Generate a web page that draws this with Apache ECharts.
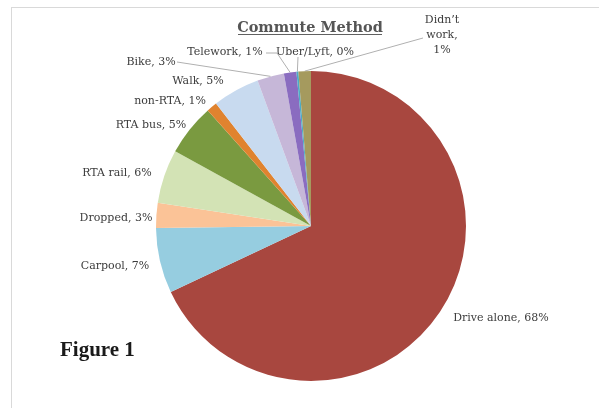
<!DOCTYPE html>
<html>
<head>
<meta charset="utf-8">
<script src="https://cdn.jsdelivr.net/npm/echarts@6/dist/echarts.min.js"></script>
<style>
html,body{margin:0;padding:0;background:#fff;}
#c{width:599px;height:408px;}
</style>
</head>
<body>
<div id="c"></div>
<script>
const categories = ['Drive alone','Carpool','Dropped','RTA rail','RTA bus','non-RTA','Walk','Bike','Telework','Uber/Lyft','Didn’t work'];
const shares = [68.0, 6.8, 2.6, 5.6, 5.4, 1.1, 4.9, 2.8, 1.3, 0.2, 1.3];

const palette = ['#a8473f','#96cde0','#fbc397','#d3e3b5','#7a9a40','#e0832f','#c8daef','#c6b7d8','#8a6cc0','#4bacc6','#a59a5e'];
const labelPos = [[501,318],[115,266],[116,218],[117,173],[151,125],[170,101],[198,81],[151,62],[225,52],[315,52],[442,35]];
const withLine = [false,false,false,false,false,false,false,true,true,true,true];
const lineEnds = {7:[[177,62]], 8:[[277,53],[266,53]], 9:[[298,57]], 10:[[423,38]]};

const total = shares.reduce((a,b)=>a+b,0);
const chart = echarts.init(document.getElementById('c'));
const labelFont = {fontFamily:'"DejaVu Serif","Liberation Serif",serif', fontSize:11, fontWeight:'normal', color:'#3c3c3c'};

chart.setOption({
  animation:false,
  title:[
    {text:'Commute Method', left:305, top:16, textAlign:'center',
     textStyle:{fontFamily:'"DejaVu Serif","Liberation Serif",serif', fontSize:14.5, fontWeight:'bold', color:'#555'}},
    {text:'Figure 1', left:55, top:335,
     textStyle:{fontFamily:'"Liberation Serif","DejaVu Serif",serif', fontSize:21, fontWeight:'bold', color:'#1a1a1a'}}
  ],
  graphic:[
    {type:'line', shape:{x1:11,y1:7.5,x2:599,y2:7.5}, style:{stroke:'#d9d9d9', lineWidth:1}},
    {type:'line', shape:{x1:11.5,y1:7,x2:11.5,y2:408}, style:{stroke:'#d9d9d9', lineWidth:1}},
    {type:'line', shape:{x1:238,y1:34.5,x2:382,y2:34.5}, style:{stroke:'#606060', lineWidth:1}}
  ],
  series:[{
    type:'pie',
    center:[311,226],
    radius:155,
    startAngle:90,
    clockwise:true,
    avoidLabelOverlap:false,
    itemStyle:{borderWidth:0},
    label:Object.assign({
      show:true, position:'outside', lineHeight:15, align:'center',
      formatter:function(p){
        const pct = Math.round(p.value/total*100);
        if (p.dataIndex === 10) return 'Didn’t\nwork,\n' + pct + '%';
        return p.name + ', ' + pct + '%';
      }
    }, labelFont),
    labelLine:{show:true, lineStyle:{color:'#b0b0b0', width:1}},
    labelLayout:function(params){
      const i = params.dataIndex;
      const p = labelPos[i];
      const res = {x:p[0], y:p[1], align:'center', verticalAlign:'middle'};
      if (withLine[i] && params.labelLinePoints) {
        res.labelLinePoints = [params.labelLinePoints[0]].concat(lineEnds[i]);
      }
      return res;
    },
    data: categories.map((c,i)=>({
      name:c, value:shares[i],
      itemStyle:{color:palette[i]},
      labelLine:{show:withLine[i]}
    }))
  }]
});
</script>
</body>
</html>
